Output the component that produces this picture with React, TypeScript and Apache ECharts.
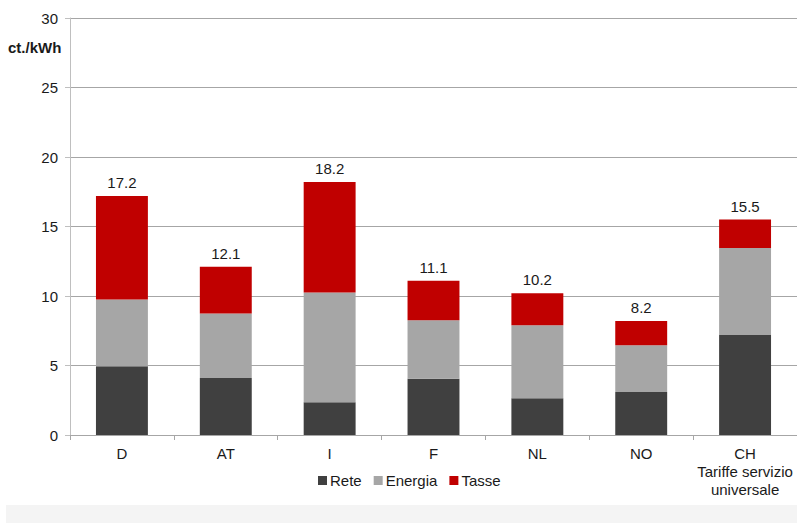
import React, { useEffect, useRef } from "react";
import * as echarts from "echarts";

const categories = ["D", "AT", "I", "F", "NL", "NO", "CH\nTariffe servizio\nuniversale"];
const rete = [4.95, 4.1, 2.35, 4.05, 2.65, 3.1, 7.2];
const energia = [4.8, 4.65, 7.9, 4.2, 5.25, 3.35, 6.25];
const tasse = [7.45, 3.35, 7.95, 2.85, 2.3, 1.75, 2.05];
const totals = [17.2, 12.1, 18.2, 11.1, 10.2, 8.2, 15.5];
const yTicks = [0, 5, 10, 15, 20, 25, 30];

const FONT = "'Liberation Sans', Arial, sans-serif";
const TEXT = "#1a1a1a";

export default function App() {
  const ref = useRef<HTMLDivElement>(null);

  useEffect(() => {
    if (!ref.current) return;
    const chart = echarts.init(ref.current, null, { renderer: "svg" });
    const barBase = {
      type: "bar" as const,
      stack: "total",
      barWidth: "50%",
      emphasis: { disabled: true },
    };
    chart.setOption({
      animation: false,
      textStyle: { fontFamily: FONT },
      grid: { left: 70, right: 0, top: 18, bottom: 88, containLabel: false },
      legend: {
        top: 468,
        left: 313,
        itemWidth: 9,
        itemHeight: 9,
        itemGap: 12,
        icon: "rect",
        textStyle: { fontFamily: FONT, fontSize: 15, color: TEXT, padding: [0, 0, 0, -2] },
        data: ["Rete", "Energia", "Tasse"],
      },
      graphic: [
        {
          type: "rect",
          shape: { x: 6, y: 505, width: 791, height: 18 },
          style: { fill: "#f4f4f4" },
          silent: true,
        },
        {
          type: "text",
          left: 8,
          top: 40,
          style: { text: "ct./kWh", font: `bold 15px ${FONT}`, fill: TEXT },
        },
      ],
      xAxis: {
        type: "category",
        data: categories,
        axisLine: { lineStyle: { color: "#a6a6a6", width: 1 } },
        axisTick: { show: true, length: 5, lineStyle: { color: "#a6a6a6" } },
        axisLabel: {
          color: TEXT,
          fontSize: 15,
          fontFamily: FONT,
          margin: 9,
          lineHeight: 18,
          interval: 0,
        },
      },
      yAxis: {
        type: "value",
        min: 0,
        max: 30,
        interval: 5,
        axisLine: { show: true, lineStyle: { color: "#bfbfbf", width: 1 } },
        axisTick: { show: true, length: 5, lineStyle: { color: "#bfbfbf" } },
        splitLine: { lineStyle: { color: "#a6a6a6", width: 1 } },
        axisLabel: {
          color: TEXT,
          fontSize: 15,
          fontFamily: FONT,
          margin: 12,
          formatter: (v: number) => (yTicks.includes(v) ? String(v) : ""),
        },
      },
      series: [
        { ...barBase, name: "Rete", data: rete, itemStyle: { color: "#404040" } },
        { ...barBase, name: "Energia", data: energia, itemStyle: { color: "#a6a6a6" } },
        {
          ...barBase,
          name: "Tasse",
          data: tasse,
          itemStyle: { color: "#c00000" },
          label: {
            show: true,
            position: "top",
            distance: 6,
            color: TEXT,
            fontSize: 15,
            fontFamily: FONT,
            formatter: (p: { dataIndex: number }) => totals[p.dataIndex].toFixed(1),
          },
        },
      ],
    });
    return () => chart.dispose();
  }, []);

  return (
    <div
      ref={ref}
      style={{ position: "fixed", left: 0, top: 0, width: 797, height: 523, background: "#fff" }}
    />
  );
}
